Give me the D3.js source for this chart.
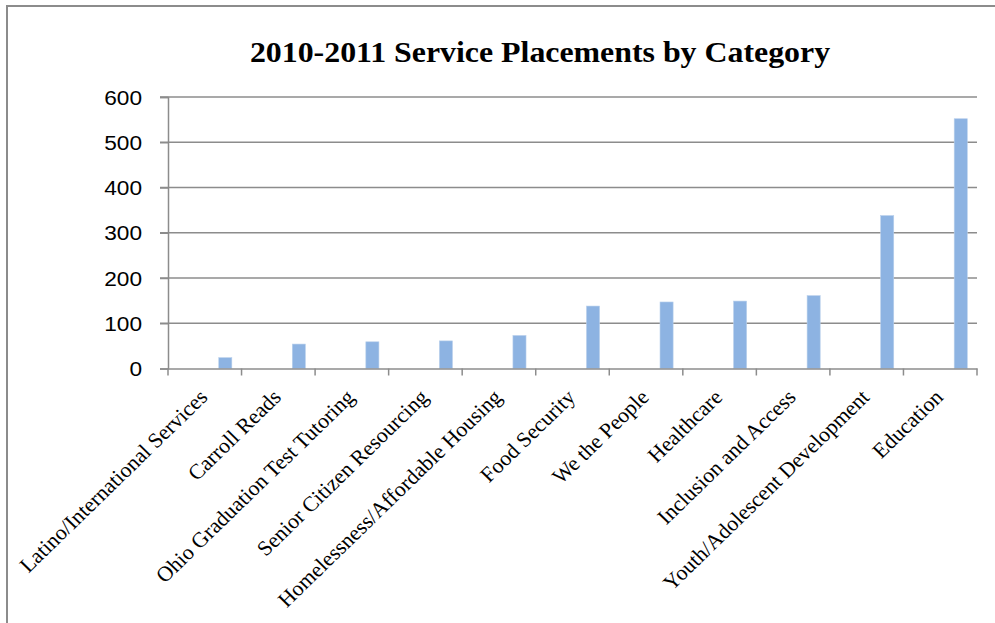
<!DOCTYPE html>
<html>
<head>
<meta charset="utf-8">
<script src="https://cdn.jsdelivr.net/npm/d3@7/dist/d3.min.js"></script>
<style>
  html, body { margin: 0; padding: 0; background: #fff; }
  svg { display: block; }
</style>
</head>
<body>
<svg id="chart" width="995" height="623"></svg>
<script>
const categories = [
  "Latino/International Services",
  "Carroll Reads",
  "Ohio Graduation Test Tutoring",
  "Senior Citizen Resourcing",
  "Homelessness/Affordable Housing",
  "Food Security",
  "We the People",
  "Healthcare",
  "Inclusion and Access",
  "Youth/Adolescent Development",
  "Education"
];
const placements = [24, 54, 59, 61, 73, 138, 147, 149, 161, 338, 552];
const yTicks = [0, 100, 200, 300, 400, 500, 600];
const title = "2010-2011 Service Placements by Category";

const svg = d3.select("#chart");
const margin = { left: 168, right: 18, top: 97, bottom: 254.5 };
const W = 995, H = 623;
const SX = 1.08;   // horizontal stretch of the original picture
const SXL = 1.03;  // stretch for rotated category labels

// outer chart border
svg.append("rect")
  .attr("x", 7).attr("y", 6)
  .attr("width", W + 20).attr("height", H + 20)
  .attr("fill", "none").attr("stroke", "#8c8c8c").attr("stroke-width", 2);

const x = d3.scaleBand().domain(categories)
  .range([margin.left, W - margin.right]).padding(0);
const y = d3.scaleLinear().domain([0, 600])
  .range([H - margin.bottom, margin.top]);

// gridlines
svg.append("g").selectAll("line").data(yTicks.filter(d => d > 0)).join("line")
  .attr("x1", margin.left - 8).attr("x2", W - margin.right)
  .attr("y1", d => y(d)).attr("y2", d => y(d))
  .attr("stroke", "#8c8c8c").attr("stroke-width", 1.5);

// bars
const bw = x.bandwidth();
svg.append("g").selectAll("rect").data(categories).join("rect")
  .attr("x", (d) => x(d) + bw * 0.69)
  .attr("width", bw * 0.178)
  .attr("y", (d, i) => y(placements[i]))
  .attr("height", (d, i) => y(0) - y(placements[i]))
  .attr("fill", "#8db3e2")
  .attr("stroke", "#b9d0ec").attr("stroke-width", 0.6);

// y axis
const yAxis = d3.axisLeft(y).tickValues(yTicks).tickSize(8).tickPadding(0).tickFormat("");
const gy = svg.append("g").attr("transform", `translate(${margin.left},0)`).call(yAxis);
gy.select(".domain").attr("stroke", "#8c8c8c").attr("stroke-width", 1.5);
gy.selectAll(".tick line").attr("stroke", "#8c8c8c").attr("stroke-width", 1.5);
gy.selectAll(".tick text").remove();
svg.append("g").selectAll("text").data(yTicks).join("text")
  .attr("transform", d => `translate(142,${y(d)}) scale(${SX},1)`)
  .attr("text-anchor", "end").attr("dy", "0.36em")
  .attr("font-family", "'Liberation Sans', Arial, sans-serif")
  .attr("font-size", 21).attr("fill", "#000")
  .text(d => d);

// x axis
const gx = svg.append("g").attr("transform", `translate(0,${y(0)})`)
  .call(d3.axisBottom(x).tickSize(0).tickFormat(""));
gx.select(".domain").attr("stroke", "#8c8c8c").attr("stroke-width", 1.5);
gx.selectAll(".tick").remove();
const boundaries = categories.map(d => x(d)).concat([x(categories[categories.length - 1]) + bw]);
gx.selectAll("line.bt").data(boundaries).join("line").attr("class", "bt")
  .attr("x1", d => d).attr("x2", d => d).attr("y1", 0).attr("y2", 7)
  .attr("stroke", "#8c8c8c").attr("stroke-width", 1.5);

// category labels
svg.append("g").selectAll("text").data(categories).join("text")
  .attr("transform", d => `translate(${x(d) + bw / 2 + 4},${y(0) + 30}) scale(${SXL},1) rotate(-45)`)
  .attr("text-anchor", "end")
  .attr("font-family", "'Liberation Serif', 'Times New Roman', serif")
  .attr("font-size", 21.3).attr("fill", "#000")
  .text(d => d);

// title
svg.append("text")
  .attr("transform", `translate(540,62) scale(${SX},1)`)
  .attr("text-anchor", "middle")
  .attr("font-family", "'Liberation Serif', 'Times New Roman', serif")
  .attr("font-weight", "bold").attr("font-size", 29.5)
  .text(title);
</script>
</body>
</html>
